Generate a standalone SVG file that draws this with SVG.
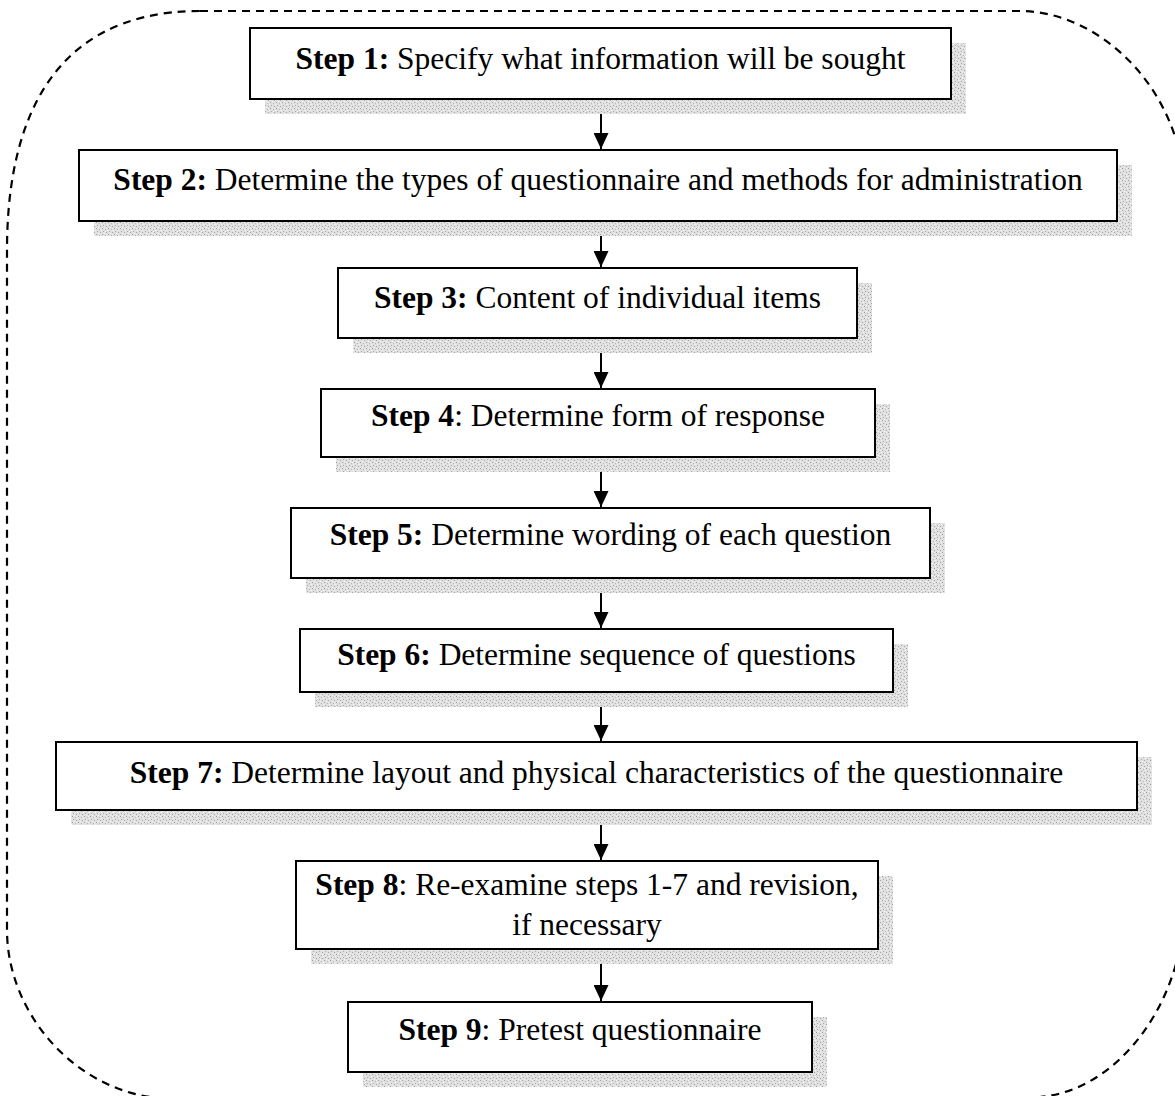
<svg xmlns="http://www.w3.org/2000/svg" width="1175" height="1096" viewBox="0 0 1175 1096">
  <defs>
    <!-- grainy drop-shadow texture -->
    <pattern id="grain" width="6" height="6" patternUnits="userSpaceOnUse">
      <rect width="6" height="6" fill="#e0e0e0"/>
      <rect x="0" y="0" width="1" height="1" fill="#a0a0a0"/>
      <rect x="3" y="1" width="1" height="1" fill="#b8b8b8"/>
      <rect x="1" y="3" width="1" height="1" fill="#acacac"/>
      <rect x="4" y="4" width="1" height="1" fill="#a4a4a4"/>
      <rect x="5" y="2" width="1" height="1" fill="#f6f6f6"/>
      <rect x="2" y="5" width="1" height="1" fill="#f4f4f4"/>
      <rect x="4" y="0" width="1" height="1" fill="#f2f2f2"/>
    </pattern>
    <!-- filled triangular arrowhead, tip at the end of the line -->
    <marker id="arrow" markerWidth="16" markerHeight="15" refX="16" refY="7.5" orient="auto" markerUnits="userSpaceOnUse" viewBox="0 0 16 15">
      <path d="M0,0 L16,7.5 L0,15 Z" fill="#000"/>
    </marker>
  </defs>
  <style>
    .frame { fill: none; stroke: #000; stroke-width: 2.2; stroke-dasharray: 8 6; }
    .shadow { fill: url(#grain); }
    .box { fill: #fff; stroke: #000; stroke-width: 2; }
    .label { font-family: "Liberation Serif", "Times New Roman", serif; font-size: 31.5px; fill: #000; text-anchor: middle; }
    .label .b { font-weight: bold; }
    .conn { stroke: #000; stroke-width: 2; fill: none; }
  </style>

  <rect width="1175" height="1096" fill="#fff"/>

  <!-- dashed rounded enclosure -->
  <path class="frame" d="M 200,11 H 1020 C 1100,11 1185,90 1185,200 V 900 C 1185,1000 1120,1090 1040,1097 H 150 C 70,1085 7,1010 7,930 V 250 C 7,140 40,11 200,11 Z"/>

  <!-- connectors -->
  <g id="connectors">
    <line class="conn" x1="601" y1="99" x2="601" y2="149" marker-end="url(#arrow)"/>
    <line class="conn" x1="601" y1="221" x2="601" y2="267" marker-end="url(#arrow)"/>
    <line class="conn" x1="601" y1="338" x2="601" y2="388" marker-end="url(#arrow)"/>
    <line class="conn" x1="601" y1="457" x2="601" y2="507" marker-end="url(#arrow)"/>
    <line class="conn" x1="601" y1="578" x2="601" y2="628" marker-end="url(#arrow)"/>
    <line class="conn" x1="601" y1="692" x2="601" y2="741" marker-end="url(#arrow)"/>
    <line class="conn" x1="601" y1="810" x2="601" y2="860" marker-end="url(#arrow)"/>
    <line class="conn" x1="601" y1="949" x2="601" y2="1001" marker-end="url(#arrow)"/>
  </g>

  <g id="step1">
    <rect class="shadow" x="265" y="43" width="701" height="71"/>
    <rect class="box" x="250" y="28" width="701" height="71"/>
    <text class="label" x="600.5" y="69"><tspan class="b">Step 1:</tspan> Specify what information will be sought</text>
  </g>

  <g id="step2">
    <rect class="shadow" x="94" y="165" width="1038" height="71"/>
    <rect class="box" x="79" y="150" width="1038" height="71"/>
    <text class="label" x="598" y="190"><tspan class="b">Step 2:</tspan> Determine the types of questionnaire and methods for administration</text>
  </g>

  <g id="step3">
    <rect class="shadow" x="353" y="283" width="519" height="70"/>
    <rect class="box" x="338" y="268" width="519" height="70"/>
    <text class="label" x="597.5" y="308"><tspan class="b">Step 3:</tspan> Content of individual items</text>
  </g>

  <g id="step4">
    <rect class="shadow" x="336" y="404" width="554" height="68"/>
    <rect class="box" x="321" y="389" width="554" height="68"/>
    <text class="label" x="598" y="426"><tspan class="b">Step 4</tspan>: Determine form of response</text>
  </g>

  <g id="step5">
    <rect class="shadow" x="306" y="523" width="639" height="70"/>
    <rect class="box" x="291" y="508" width="639" height="70"/>
    <text class="label" x="610.5" y="545"><tspan class="b">Step 5:</tspan> Determine wording of each question</text>
  </g>

  <g id="step6">
    <rect class="shadow" x="315" y="644" width="593" height="63"/>
    <rect class="box" x="300" y="629" width="593" height="63"/>
    <text class="label" x="596.5" y="665"><tspan class="b">Step 6:</tspan> Determine sequence of questions</text>
  </g>

  <g id="step7">
    <rect class="shadow" x="71" y="757" width="1081" height="68"/>
    <rect class="box" x="56" y="742" width="1081" height="68"/>
    <text class="label" x="596.5" y="783"><tspan class="b">Step 7:</tspan> Determine layout and physical characteristics of the questionnaire</text>
  </g>

  <g id="step8">
    <rect class="shadow" x="311" y="876" width="582" height="88"/>
    <rect class="box" x="296" y="861" width="582" height="88"/>
    <text class="label" x="587" y="895"><tspan class="b">Step 8</tspan>: Re-examine steps 1-7 and revision,</text>
    <text class="label" x="587" y="935">if necessary</text>
  </g>

  <g id="step9">
    <rect class="shadow" x="363" y="1017" width="464" height="70"/>
    <rect class="box" x="348" y="1002" width="464" height="70"/>
    <text class="label" x="580" y="1040"><tspan class="b">Step 9</tspan>: Pretest questionnaire</text>
  </g>
</svg>
